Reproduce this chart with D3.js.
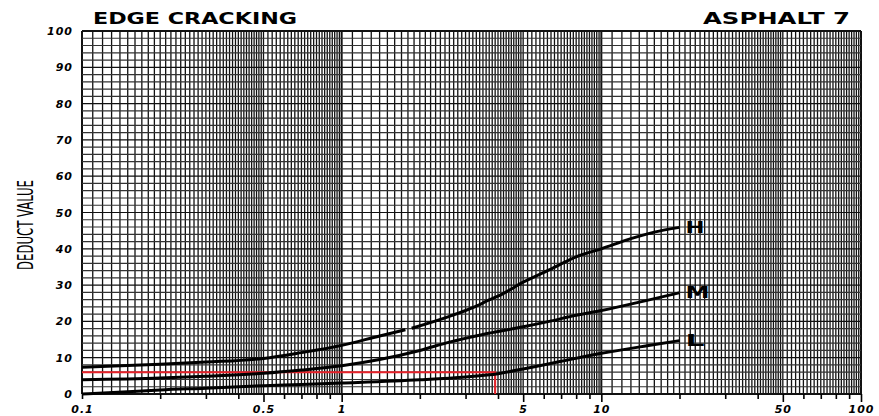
<!DOCTYPE html>
<html>
<head>
<meta charset="utf-8">
<script src="https://cdn.jsdelivr.net/npm/d3@7"></script>
<style>
  body { margin: 0; background: #fff; }
  .tick text { font-family: "DejaVu Sans", sans-serif; font-weight: bold; font-style: italic; font-size: 11px; fill: #000; }
</style>
</head>
<body>
<script>
var w = 879;
var h = 416;
var margin = {top: 31, right: 18, bottom: 22, left: 82};

// axis values
var yTicks = [0, 10, 20, 30, 40, 50, 60, 70, 80, 90, 100];
var xLabels = [0.1, 0.5, 1, 5, 10, 50, 100];
var xLabelText = ["0.1", "0.5", "1", "5", "10", "50", "100"];
var decades = [0.1, 1, 10];
var multiples = [1, 2, 3, 4, 5, 6, 7, 8, 9];
var hGridStep = 2;

// deduct curves, [density %, deduct value]; null = break in the printed line
var curveNames = ["H", "M", "L"];
var high = [[0.1, 7.4], [0.2, 8.2], [0.3, 8.8], [0.5, 9.8], [0.7, 11.4], [1, 13.4], [1.4, 16],
            [1.76, 17.7], null, [1.86, 18.1], [2.6, 21.4], [3.2, 23.8], [3.7, 25.9], [4.1, 27.3],
            [5, 30.8], [6.3, 34.2], [8, 37.8], [10, 40], [13, 42.8], [16, 44.6], [20, 45.9]];
var medium = [[0.1, 3.9], [0.2, 4.4], [0.3, 4.9], [0.5, 5.7], [0.7, 6.6], [1, 7.8], [1.4, 9.5],
              [2, 12], [2.6, 14.3], [3.5, 16.4], [5, 18.5], [6.3, 20], [8, 21.7], [10, 23],
              [15, 25.8], [20, 27.9]];
var low = [[0.1, 0], [0.15, 0.6], [0.2, 1.1], [0.3, 1.6], [0.5, 2.3], [0.7, 2.6], [1, 3],
           [2, 3.9], [3, 4.7], [4, 5.6], [5, 6.9], [7, 9], [10, 11.2], [15, 13.3], [20, 14.7]];
var redReading = [[0.1, 6], [3.9, 6], [3.9, 0]];

var svg = d3.select("body").append("svg")
    .attr("width", w)
    .attr("height", h);

var x = d3.scaleLog()
    .domain([0.1, 100])
    .range([margin.left, w - margin.right]);

var y = d3.scaleLinear()
    .domain([0, 100])
    .range([h - margin.bottom, margin.top]);

// fine log grid: 0.1 steps from 1 to 5, 0.2 steps from 5 to 10 in every decade
var vGrid = [];
decades.forEach(function(d) {
  d3.range(10, 50).forEach(function(k) { vGrid.push(d * k / 10); });
  d3.range(50, 100, 2).forEach(function(k) { vGrid.push(d * k / 10); });
});
vGrid.push(100);

var grid = svg.append("g").attr("class", "grid");

grid.selectAll("line.v")
    .data(vGrid)
    .enter()
    .append("line")
    .attr("class", "v")
    .attr("x1", function(d) { return x(d); })
    .attr("x2", function(d) { return x(d); })
    .attr("y1", y(100))
    .attr("y2", y(0))
    .attr("stroke", "#111")
    .attr("stroke-width", function(d) {
      return (decades.indexOf(d) >= 0 || d == 100) ? 2 : 1.3;
    });

grid.selectAll("line.h")
    .data(d3.range(0, 101, hGridStep))
    .enter()
    .append("line")
    .attr("class", "h")
    .attr("x1", x(0.1))
    .attr("x2", x(100))
    .attr("y1", function(d) { return y(d); })
    .attr("y2", function(d) { return y(d); })
    .attr("stroke", function(d) { return d % 10 == 0 ? "#111" : "#333"; })
    .attr("stroke-width", function(d) { return (d == 0 || d == 100) ? 2 : 1.2; });

// axes
var yAxis = d3.axisLeft(y)
    .tickValues(yTicks)
    .tickSize(0)
    .tickPadding(9)
    .tickFormat(d3.format("d"));

svg.append("g")
    .attr("class", "y axis")
    .attr("transform", "translate(" + margin.left + ",0)")
    .call(yAxis)
    .call(function(g) { g.select(".domain").remove(); })
    .selectAll("text")
    .style("letter-spacing", "1px");

var bottomTicks = [];
decades.forEach(function(d) {
  multiples.forEach(function(m) { bottomTicks.push(d * m); });
});
bottomTicks.push(100);

function isLabel(v) {
  return xLabels.some(function(l) { return Math.abs(l - v) < 1e-9; });
}

var xAxis = d3.axisBottom(x)
    .tickValues(bottomTicks)
    .tickSize(5)
    .tickPadding(6)
    .tickFormat(function(d) {
      for (var i = 0; i < xLabels.length; i++) {
        if (Math.abs(xLabels[i] - d) < 1e-9) return xLabelText[i];
      }
      return "";
    });

var xg = svg.append("g")
    .attr("class", "x axis")
    .attr("transform", "translate(0," + y(0) + ")")
    .call(xAxis);
xg.select(".domain").remove();
xg.selectAll(".tick line")
    .attr("stroke", "#000")
    .attr("stroke-width", 1.6)
    .attr("y2", function(d) { return isLabel(d) && d != 0.1 ? 8 : 5; });
xg.selectAll(".tick text")
    .attr("y", 11)
    .style("letter-spacing", "1px");

// example reading
svg.append("path")
    .datum(redReading)
    .attr("d", d3.line().x(function(d) { return x(d[0]); }).y(function(d) { return y(d[1]); }))
    .attr("fill", "none")
    .attr("stroke", "#e8222a")
    .attr("stroke-width", 2);

// curves
var line = d3.line()
    .defined(function(d) { return d != null; })
    .x(function(d) { return x(d[0]); })
    .y(function(d) { return y(d[1]); })
    .curve(d3.curveMonotoneX);

var series = [high, medium, low];

svg.selectAll("path.curve")
    .data(series)
    .enter()
    .append("path")
    .attr("class", "curve")
    .attr("d", line)
    .attr("fill", "none")
    .attr("stroke", "#000")
    .attr("stroke-width", 3)
    .attr("stroke-linecap", "butt");

svg.selectAll("text.curve-label")
    .data(series)
    .enter()
    .append("text")
    .attr("class", "curve-label")
    .attr("x", function(d) { return x(d[d.length - 1][0]) + 6; })
    .attr("y", function(d) { return y(d[d.length - 1][1]); })
    .attr("dy", "0.36em")
    .attr("textLength", function(d, i) { return curveNames[i] == "M" ? 24 : 19; })
    .attr("lengthAdjust", "spacingAndGlyphs")
    .style("font-family", "DejaVu Sans, sans-serif")
    .style("font-weight", "bold")
    .style("font-size", "16px")
    .text(function(d, i) { return curveNames[i]; });

// titles
svg.append("text")
    .attr("x", 93)
    .attr("y", 24)
    .attr("textLength", 204)
    .attr("lengthAdjust", "spacingAndGlyphs")
    .style("font-family", "DejaVu Sans, sans-serif")
    .style("font-weight", "bold")
    .style("font-size", "15px")
    .text("EDGE CRACKING");

svg.append("text")
    .attr("x", 703)
    .attr("y", 24)
    .attr("textLength", 147)
    .attr("lengthAdjust", "spacingAndGlyphs")
    .style("font-family", "DejaVu Sans, sans-serif")
    .style("font-weight", "bold")
    .style("font-size", "15px")
    .text("ASPHALT 7");

svg.append("text")
    .attr("transform", "translate(33,225) rotate(-90)")
    .attr("text-anchor", "middle")
    .attr("textLength", 90)
    .attr("lengthAdjust", "spacingAndGlyphs")
    .style("font-family", "Liberation Sans Narrow, DejaVu Sans Condensed, sans-serif")
    .style("font-size", "21px")
    .text("DEDUCT VALUE");
</script>
</body>
</html>
